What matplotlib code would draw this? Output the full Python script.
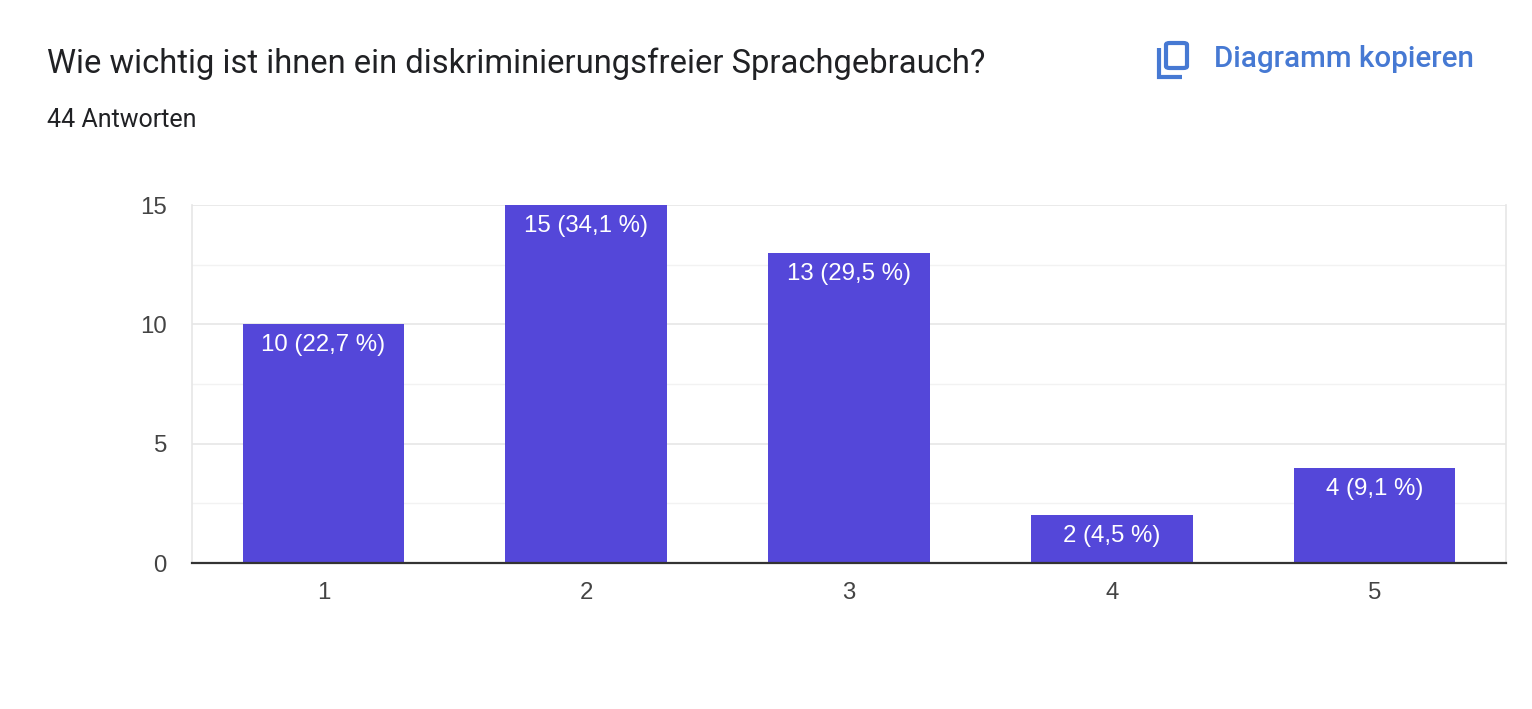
import matplotlib
matplotlib.use("Agg")
import matplotlib.pyplot as plt
from matplotlib.patches import FancyBboxPatch
from matplotlib.lines import Line2D

plt.rcParams['font.family'] = ['Roboto', 'DejaVu Sans']

# data
categories = [1, 2, 3, 4, 5]
counts = [10, 15, 13, 2, 4]
labels = ["10 (22,7 %)", "15 (34,1 %)", "13 (29,5 %)", "2 (4,5 %)", "4 (9,1 %)"]
yticks = [0, 5, 10, 15]

title = "Wie wichtig ist ihnen ein diskriminierungsfreier Sprachgebrauch?"
subtitle = "44 Antworten"
copy_text = "Diagramm kopieren"

W, H = 1532, 709
fig = plt.figure(figsize=(W / 100, H / 100), dpi=100)
fig.patch.set_facecolor("white")

ax = fig.add_axes([192 / W, 1 - 563 / H, (1506 - 192) / W, (563 - 205) / H])

chart_font = ['Liberation Sans', 'DejaVu Sans']
bar_color = "#5447d9"
bars = ax.bar(categories, counts, width=0.615, color=bar_color, zorder=3)
for b, lab in zip(bars, labels):
    ax.text(b.get_x() + b.get_width() / 2, b.get_height() - 0.42, lab,
            ha="center", va="top", color="white", fontsize=17.3,
            family=chart_font, zorder=4)

ax.set_xlim(0.5, 5.5)
ax.set_ylim(0, 15)
ax.set_xticks(categories)
ax.set_yticks(yticks)
ax.set_yticks([2.5, 7.5, 12.5], minor=True)
ax.tick_params(axis="both", length=0, labelsize=17.3, colors="#444444")
ax.tick_params(axis="y", pad=18)
ax.tick_params(axis="x", pad=14)
ax.tick_params(axis="y", which="minor", length=0)
for t in ax.get_xticklabels() + ax.get_yticklabels():
    t.set_family(chart_font)
ax.grid(axis="y", which="major", color="#e6e6e6", linewidth=1.2, zorder=0)
ax.grid(axis="y", which="minor", color="#f2f2f2", linewidth=1.0, zorder=0)
for side in ["left", "right"]:
    ax.spines[side].set_color("#e6e6e6")
    ax.spines[side].set_linewidth(1.2)
ax.spines["top"].set_visible(False)
ax.spines["bottom"].set_color("#333333")
ax.spines["bottom"].set_linewidth(1.6)
ax.spines["bottom"].set_zorder(5)

# header
fig.text(47 / W, 1 - 64 / H, title, fontsize=23.6, color="#202124", va="center", ha="left")
fig.text(47 / W, 1 - 120 / H, subtitle, fontsize=18, color="#202124", va="center", ha="left")

blue = "#4679d3"
fig.text(1214 / W, 1 - 59 / H, copy_text, fontsize=21.3, color=blue, va="center", ha="left",
         fontweight="medium")

# copy icon
fig.add_artist(FancyBboxPatch((1166 / W, 1 - 68 / H), 21 / W, 25 / H,
                              boxstyle="round,pad=0,rounding_size=0.0025",
                              transform=fig.transFigure, fill=False,
                              edgecolor=blue, linewidth=3.0))
fig.add_artist(Line2D([1158.5 / W, 1158.5 / W, 1182 / W], [1 - 48 / H, 1 - 76.5 / H, 1 - 76.5 / H],
                      transform=fig.transFigure, color=blue, linewidth=3.0,
                      solid_capstyle="butt", solid_joinstyle="miter"))

fig.savefig("out.png", dpi=100, facecolor="white")
